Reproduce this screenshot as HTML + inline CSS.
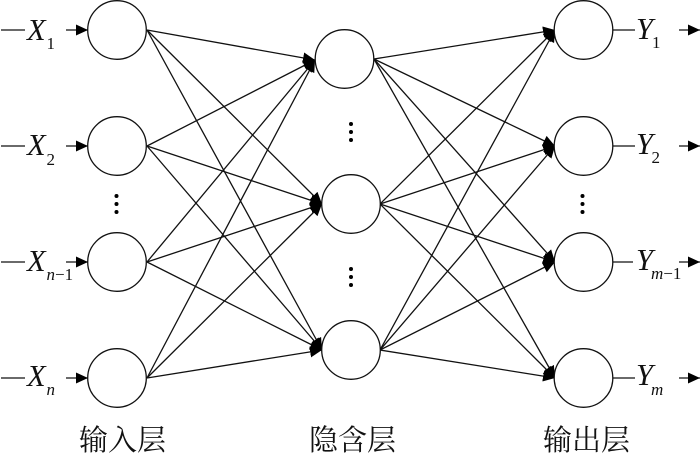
<!DOCTYPE html>
<html><head><meta charset="utf-8"><style>
html,body{margin:0;padding:0;background:#fff}
svg{display:block}
.m{font-family:"Liberation Serif",serif;font-style:italic;font-size:30.5px;fill:#111}
.s{font-family:"Liberation Serif",serif;font-style:italic;font-size:17px;fill:#111}
.n{font-style:normal}
.c{font-family:"Liberation Serif","Noto Serif CJK SC",serif;font-size:29px;fill:#111}
</style></head><body>
<svg width="700" height="454" viewBox="0 0 700 454" xmlns="http://www.w3.org/2000/svg">
<defs>
<marker id="a" markerUnits="userSpaceOnUse" markerWidth="14" markerHeight="12" refX="12" refY="5.5" orient="auto"><path d="M0 0L12 5.5L0 11Z" fill="#000"/></marker>
</defs>
<g stroke="#111" stroke-width="1.3" fill="none">
<line x1="147" y1="30" x2="315" y2="60" marker-end="url(#a)"/>
<line x1="147" y1="30" x2="322" y2="204" marker-end="url(#a)"/>
<line x1="147" y1="30" x2="322" y2="350" marker-end="url(#a)"/>
<line x1="147" y1="146" x2="315" y2="60" marker-end="url(#a)"/>
<line x1="147" y1="146" x2="322" y2="204" marker-end="url(#a)"/>
<line x1="147" y1="146" x2="322" y2="350" marker-end="url(#a)"/>
<line x1="147" y1="262" x2="315" y2="60" marker-end="url(#a)"/>
<line x1="147" y1="262" x2="322" y2="204" marker-end="url(#a)"/>
<line x1="147" y1="262" x2="322" y2="350" marker-end="url(#a)"/>
<line x1="147" y1="378" x2="315" y2="60" marker-end="url(#a)"/>
<line x1="147" y1="378" x2="322" y2="204" marker-end="url(#a)"/>
<line x1="147" y1="378" x2="322" y2="350" marker-end="url(#a)"/>
<line x1="374" y1="59" x2="555" y2="30" marker-end="url(#a)"/>
<line x1="374" y1="59" x2="555" y2="146" marker-end="url(#a)"/>
<line x1="374" y1="59" x2="555" y2="262" marker-end="url(#a)"/>
<line x1="374" y1="59" x2="555" y2="378" marker-end="url(#a)"/>
<line x1="380" y1="204" x2="555" y2="30" marker-end="url(#a)"/>
<line x1="380" y1="204" x2="555" y2="146" marker-end="url(#a)"/>
<line x1="380" y1="204" x2="555" y2="262" marker-end="url(#a)"/>
<line x1="380" y1="204" x2="555" y2="378" marker-end="url(#a)"/>
<line x1="380" y1="350" x2="555" y2="30" marker-end="url(#a)"/>
<line x1="380" y1="350" x2="555" y2="146" marker-end="url(#a)"/>
<line x1="380" y1="350" x2="555" y2="262" marker-end="url(#a)"/>
<line x1="380" y1="350" x2="555" y2="378" marker-end="url(#a)"/>
<line x1="66" y1="30" x2="88" y2="30" marker-end="url(#a)"/>
<line x1="66" y1="146" x2="88" y2="146" marker-end="url(#a)"/>
<line x1="66" y1="262" x2="88" y2="262" marker-end="url(#a)"/>
<line x1="66" y1="378" x2="88" y2="378" marker-end="url(#a)"/>
<line x1="679" y1="30" x2="700" y2="30" marker-end="url(#a)"/>
<line x1="679" y1="146" x2="700" y2="146" marker-end="url(#a)"/>
<line x1="679" y1="262" x2="700" y2="262" marker-end="url(#a)"/>
<line x1="679" y1="378" x2="700" y2="378" marker-end="url(#a)"/>
</g>
<g stroke="#111" stroke-width="1.2">
<line x1="1" y1="30" x2="25" y2="30"/><line x1="1" y1="146" x2="25" y2="146"/><line x1="1" y1="262" x2="25" y2="262"/><line x1="1" y1="378" x2="25" y2="378"/>
<line x1="613" y1="30" x2="635" y2="30"/><line x1="613" y1="146" x2="635" y2="146"/><line x1="613" y1="262" x2="633" y2="262"/><line x1="613" y1="378" x2="635" y2="378"/>
</g>
<g fill="#fff" stroke="#111" stroke-width="1.3">
<circle cx="117" cy="30" r="29.3"/><circle cx="117" cy="146" r="29.3"/><circle cx="117" cy="262" r="29.3"/><circle cx="117" cy="378" r="29.3"/>
<circle cx="344.5" cy="59" r="29.3"/><circle cx="351" cy="204" r="29.3"/><circle cx="351" cy="350" r="29.3"/>
<circle cx="583.5" cy="30" r="29.3"/><circle cx="583.5" cy="146" r="29.3"/><circle cx="583.5" cy="262" r="29.3"/><circle cx="583.5" cy="378" r="29.3"/>
</g>
<g fill="#000">
<circle cx="116.5" cy="196" r="2"/><circle cx="116.5" cy="204" r="2"/><circle cx="116.5" cy="212" r="2"/>
<circle cx="351" cy="124" r="2"/><circle cx="351" cy="132" r="2"/><circle cx="351" cy="140" r="2"/>
<circle cx="351" cy="269" r="2"/><circle cx="351" cy="277" r="2"/><circle cx="351" cy="285" r="2"/>
<circle cx="582.5" cy="196" r="2"/><circle cx="582.5" cy="204" r="2"/><circle cx="582.5" cy="212" r="2"/>
</g>
<text class="m" x="27" y="40">X</text><text class="s n" x="46.5" y="49">1</text>
<text class="m" x="27" y="155">X</text><text class="s n" x="46.5" y="165">2</text>
<text class="m" x="27" y="271">X</text><text class="s" x="46.5" y="280">n<tspan class="n">−1</tspan></text>
<text class="m" x="27" y="386">X</text><text class="s" x="46.5" y="395">n</text>
<text class="m" x="636" y="39">Y</text><text class="s n" x="652" y="48">1</text>
<text class="m" x="636" y="154">Y</text><text class="s n" x="651.5" y="163">2</text>
<text class="m" x="636" y="270">Y</text><text class="s" x="651" y="279">m<tspan class="n">−1</tspan></text>
<text class="m" x="636" y="385">Y</text><text class="s" x="651" y="395">m</text>
<text class="c" x="79" y="450">输入层</text>
<text class="c" x="309" y="450">隐含层</text>
<text class="c" x="543" y="450">输出层</text>
</svg>
</body></html>
